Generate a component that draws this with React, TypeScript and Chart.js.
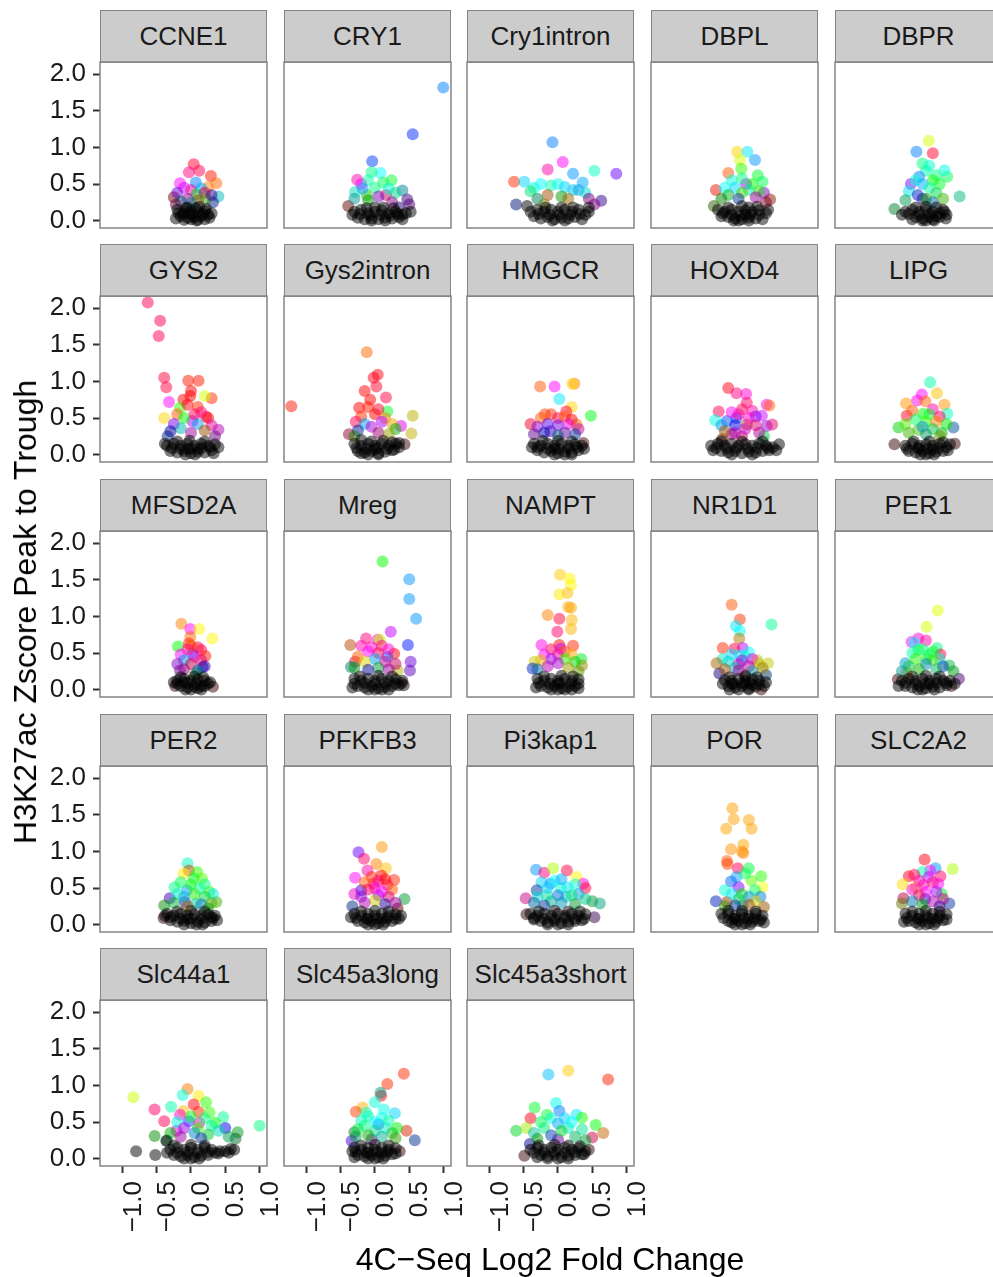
import React, { useEffect, useRef } from "react";
import { Chart, registerables } from "chart.js";
Chart.register(...registerables);

// Each point: [log2FC, zscore, phaseHue, brightness?]
const CCNE1 = [[0.04,0.77,350],[0.12,0.68,340],[-0.03,0.66,330],[0.29,0.61,5],[0.37,0.51,25],[-0.16,0.51,300],[0.25,0.46,30],[0.07,0.52,210],[0.40,0.33,180],[-0.25,0.32,0,0.45],[0.32,0.25,230,0.55],
  [-0.1,0.45,290],[0.0,0.42,320],[0.15,0.44,200],[-0.2,0.38,270],[0.08,0.36,130],[0.2,0.38,340],[-0.05,0.3,300,0.6],[0.1,0.28,20,0.55],[-0.15,0.26,200,0.5],[0.22,0.3,100,0.6],[0.3,0.35,260,0.6],[-0.22,0.22,330,0.4],[0.0,0.24,180,0.5]];
const CCNE1_LOW = [[-0.2,0.15],[-0.1,0.12],[0.0,0.14],[0.1,0.12],[0.2,0.13],[-0.15,0.06],[-0.05,0.04],[0.05,0.05],[0.15,0.06],[0.25,0.08],[-0.22,0.03],[0.0,0.02],[0.1,0.01],[-0.1,0.01],[0.3,0.1],[-0.05,0.18],[0.12,0.19],[0.2,0.02],
  [-0.12,0.09],[0.03,0.08],[0.17,0.09],[-0.07,0.17],[0.07,0.17],[0.22,0.16],[-0.18,0.1],[0.27,0.04],[-0.02,0.1],[0.08,0.0]];

const CRY1 = [[0.995,1.82,210],[0.55,1.18,230],[-0.04,0.81,225],[-0.26,0.56,320],[0.24,0.55,130],[0.08,0.65,180],[-0.05,0.66,150],[-0.29,0.39,170],[-0.12,0.35,110],[0.16,0.35,330],[0.40,0.41,190,0.6],[0.47,0.29,270,0.5],[-0.39,0.2,0,0.4],
  [-0.2,0.5,300],[-0.1,0.55,160],[0.12,0.52,140],[0.0,0.45,150],[-0.18,0.44,200],[0.2,0.44,170],[0.3,0.38,160],[-0.3,0.3,180,0.6],[0.05,0.33,280],[0.25,0.25,300,0.5],[0.5,0.22,280,0.45],[0.35,0.18,260,0.4],[-0.1,0.28,120,0.6]];
const CRY1_LOW = [[0.52,0.12],[-0.3,0.12],[-0.2,0.15],[-0.1,0.1],[0.0,0.12],[0.1,0.14],[0.2,0.1],[0.3,0.12],[0.4,0.08],[-0.25,0.04],[-0.15,0.02],[-0.05,0.03],[0.05,0.02],[0.15,0.04],[0.25,0.03],[0.35,0.05],[0.45,0.1],[0.0,0.18],
  [-0.33,0.08],[-0.22,0.09],[-0.08,0.07],[0.08,0.08],[0.22,0.07],[0.33,0.09],[-0.12,0.17],[0.12,0.18],[0.27,0.17],[0.4,0.02],[-0.05,0.0],[0.15,0.0]];

const CRY1INTRON = [[-0.08,1.07,210],[0.07,0.80,300],[-0.15,0.70,320],[0.22,0.64,205],[0.53,0.68,165],[0.85,0.64,265],[-0.64,0.53,10],[-0.49,0.53,190],[0.36,0.52,200],[0.63,0.27,260,0.55],[0.53,0.22,300,0.5],[-0.61,0.22,230,0.45],[0.22,0.42,190],[-0.2,0.22,60,0.55],
  [-0.35,0.45,170],[-0.25,0.5,180],[-0.1,0.48,160],[0.0,0.5,175],[0.1,0.46,190],[0.3,0.42,200],[-0.4,0.4,150],[0.4,0.38,180],[-0.15,0.35,30,0.6],[0.05,0.33,120,0.6],[0.15,0.3,40,0.6],[-0.3,0.3,160,0.5],[0.45,0.3,300,0.5]];
const CRY1INTRON_LOW = [[0.35,0.02],[-0.45,0.2],[-0.3,0.15],[-0.2,0.12],[-0.1,0.15],[0.0,0.12],[0.1,0.15],[0.2,0.12],[0.3,0.15],[0.45,0.18],[-0.35,0.06],[-0.25,0.03],[-0.15,0.05],[-0.05,0.02],[0.05,0.04],[0.15,0.03],[0.25,0.05],[0.4,0.08],
  [-0.4,0.12],[-0.28,0.09],[-0.12,0.08],[0.02,0.08],[0.18,0.08],[0.32,0.09],[-0.18,0.18],[0.05,0.18],[0.22,0.18],[-0.08,0.0],[0.1,0.0],[0.45,0.12]];

const DBPL = [[-0.07,0.94,50],[0.08,0.94,185],[0.19,0.83,205],[-0.03,0.83,70],[-0.01,0.71,110],[-0.2,0.65,20],[0.23,0.62,130],[-0.38,0.42,5],[0.06,0.50,280],[0.32,0.38,275],[0.41,0.29,10,0.55],[-0.41,0.2,90,0.35],[0.3,0.53,140],
  [-0.15,0.55,170],[0.0,0.58,150],[0.15,0.5,120],[-0.25,0.45,180],[-0.1,0.45,190],[0.1,0.42,160],[0.25,0.4,110],[-0.2,0.35,130,0.7],[0.0,0.38,100],[0.2,0.32,300,0.6],[-0.3,0.3,120,0.5],[0.35,0.25,340,0.5],[-0.05,0.3,220,0.6]];
const DBPL_LOW = [[-0.35,0.15],[-0.25,0.12],[-0.15,0.15],[-0.05,0.12],[0.05,0.14],[0.15,0.12],[0.25,0.14],[0.35,0.1],[-0.2,0.05],[-0.1,0.03],[0.0,0.02],[0.1,0.04],[0.2,0.03],[0.3,0.02],[-0.05,0.0],[-0.3,0.06],[0.05,0.08],[0.0,0.2],
  [-0.28,0.1],[-0.15,0.08],[-0.02,0.07],[0.12,0.08],[0.25,0.08],[-0.2,0.18],[0.1,0.18],[0.22,0.19],[0.1,0.0],[-0.12,0.0],[0.38,0.15]];

const DBPR = [[0.04,1.09,70],[0.10,0.92,350],[-0.14,0.94,210],[0.49,0.33,160],[-0.46,0.16,140,0.5],[0.31,0.6,140],[0.27,0.69,175],[-0.22,0.5,270],[-0.05,0.3,260],
  [-0.05,0.78,150],[0.05,0.75,170],[0.0,0.68,160],[0.15,0.62,150],[-0.1,0.6,210],[0.1,0.55,120],[-0.15,0.55,170],[0.2,0.5,130],[-0.05,0.5,200],[0.05,0.45,160],[-0.25,0.4,180],[0.15,0.38,140],[-0.12,0.35,230],[0.25,0.3,100,0.7],[-0.3,0.28,150,0.6],[0.0,0.3,120,0.6],[0.1,0.25,200,0.6]];
const DBPR_LOW = [[0.29,0.03],[-0.3,0.12],[-0.2,0.15],[-0.1,0.12],[0.0,0.15],[0.1,0.12],[0.2,0.1],[0.25,0.15],[-0.15,0.05],[-0.05,0.03],[0.05,0.05],[0.15,0.06],[-0.2,0.02],[0.1,0.02],[0.0,0.0],[-0.35,0.08],[0.3,0.08],
  [-0.25,0.09],[-0.1,0.08],[0.05,0.09],[0.2,0.05],[-0.15,0.18],[0.0,0.19],[0.15,0.18],[-0.05,0.0],[0.12,0.0],[0.27,0.12]];

const GYS2 = [[-0.63,2.08,340],[-0.45,1.83,340],[-0.47,1.62,340],[-0.39,1.05,345],[-0.36,0.92,345],[-0.04,1.01,5],[0.11,1.01,5],[-0.32,0.72,300],[-0.01,0.8,0],[0.3,0.77,10],[0.2,0.8,70],[-0.11,0.75,0],[-0.39,0.5,50],[-0.16,0.64,110],[0.02,0.46,280],[0.4,0.34,300,0.7],[0.22,0.52,340],[-0.34,0.25,220,0.5],[0.0,0.87,0],
  [-0.05,0.68,355],[0.1,0.65,10],[-0.2,0.55,20],[0.15,0.58,330],[0.25,0.5,0],[-0.1,0.5,120],[0.05,0.55,340],[-0.25,0.42,270],[0.1,0.42,200],[0.3,0.4,320],[-0.15,0.36,180,0.7],[0.2,0.33,30,0.6],[-0.3,0.32,240,0.6],[0.0,0.3,300,0.6],[0.35,0.25,290,0.5]];
const GYS2_LOW = [[-0.35,0.12],[-0.25,0.15],[-0.15,0.12],[-0.05,0.15],[0.05,0.12],[0.15,0.15],[0.25,0.12],[0.35,0.14],[-0.3,0.05],[-0.2,0.03],[-0.1,0.05],[0.0,0.02],[0.1,0.04],[0.2,0.03],[0.3,0.06],[0.4,0.1],[-0.05,0.08],[0.1,0.08],
  [-0.28,0.09],[-0.15,0.08],[0.0,0.08],[0.15,0.09],[0.28,0.1],[-0.2,0.18],[-0.02,0.19],[0.2,0.18],[0.33,0.02],[-0.08,0.0],[0.06,0.0],[-0.38,0.15]];

const GYS2INTRON = [[-0.12,1.40,25],[-1.22,0.66,5],[0.04,1.09,355],[-0.02,1.05,355],[0.02,0.93,350],[-0.15,0.87,0],[0.16,0.78,345],[-0.23,0.64,0],[-0.07,0.75,0],[0.55,0.53,55,0.75],[0.53,0.29,55,0.75],[0.38,0.39,300],[-0.38,0.28,340,0.55],[0.18,0.59,130],[0.43,0.14,0,0.2],
  [-0.1,0.65,5],[0.05,0.62,350],[-0.2,0.52,10],[0.0,0.55,0],[0.15,0.5,30],[-0.28,0.45,340],[0.1,0.45,280],[-0.15,0.42,200],[0.25,0.42,40],[-0.05,0.38,290],[0.3,0.35,120,0.7],[-0.25,0.33,230,0.6],[0.05,0.3,320,0.6],[0.2,0.28,60,0.6],[-0.3,0.25,100,0.5]];
const GYS2INTRON_LOW = [[-0.3,0.15],[-0.2,0.12],[-0.1,0.15],[0.0,0.12],[0.1,0.15],[0.2,0.12],[0.3,0.15],[-0.25,0.05],[-0.15,0.03],[-0.05,0.05],[0.05,0.02],[0.15,0.04],[0.25,0.06],[0.35,0.1],[-0.1,0.0],[0.0,0.07],[-0.2,0.2],
  [-0.27,0.09],[-0.12,0.08],[0.03,0.09],[0.18,0.08],[0.28,0.07],[-0.05,0.18],[0.12,0.19],[0.25,0.17],[0.05,0.0],[-0.2,0.02],[0.35,0.16]];

const HMGCR = [[-0.26,0.93,20],[-0.05,0.93,300],[0.24,0.97,30],[0.21,0.97,50],[0.02,0.76,185],[0.48,0.53,125],[-0.4,0.42,350],[0.2,0.65,50],[-0.19,0.55,15],[0.12,0.59,350],[0.27,0.41,30],[-0.11,0.32,260],[0.37,0.16,0,0.3],
  [-0.25,0.5,20],[-0.1,0.55,10],[0.0,0.5,340],[0.1,0.52,20],[0.2,0.48,0],[-0.3,0.38,280],[-0.15,0.42,260],[0.0,0.4,270],[0.15,0.42,300],[0.3,0.35,310],[-0.2,0.3,240,0.7],[0.1,0.3,280,0.6],[0.25,0.28,220,0.6],[-0.35,0.28,280,0.55],[0.0,0.26,200,0.5]];
const HMGCR_LOW = [[-0.35,0.15],[-0.25,0.12],[-0.15,0.15],[-0.05,0.12],[0.05,0.15],[0.15,0.12],[0.25,0.14],[0.35,0.12],[-0.3,0.06],[-0.2,0.03],[-0.1,0.05],[0.0,0.02],[0.1,0.04],[0.2,0.03],[0.3,0.06],[-0.05,0.08],[0.1,0.0],
  [-0.3,0.1],[-0.15,0.08],[0.0,0.08],[0.15,0.08],[0.28,0.1],[-0.22,0.19],[0.0,0.19],[0.2,0.18],[0.38,0.08],[-0.05,0.0],[0.2,0.0],[-0.38,0.1]];

const HOXD4 = [[-0.2,0.91,355],[-0.08,0.84,330],[0.06,0.83,310],[0.07,0.71,335],[0.36,0.68,300],[0.4,0.67,25],[-0.34,0.59,340],[-0.39,0.47,175],[-0.22,0.46,220],[-0.08,0.5,230],[0.29,0.53,290],[0.07,0.41,20,0.7],[0.36,0.39,280],[0.44,0.41,330],[0.32,0.25,140,0.8],[-0.15,0.28,320],[0.0,0.25,330,0.8],[-0.29,0.21,20,0.45],
  [0.0,0.62,340],[0.15,0.6,320],[-0.15,0.58,300],[0.2,0.52,270],[-0.05,0.55,320],[0.1,0.5,310],[-0.3,0.4,200],[-0.1,0.4,240],[0.2,0.4,330],[0.05,0.35,300,0.8],[-0.25,0.32,30,0.6],[0.25,0.3,310,0.7],[-0.1,0.3,300,0.7]];
const HOXD4_LOW = [[-0.42,0.06],[0.54,0.14],[-0.45,0.12],[-0.35,0.15],[-0.25,0.12],[-0.15,0.15],[-0.05,0.12],[0.05,0.14],[0.15,0.12],[0.25,0.15],[0.35,0.12],[0.45,0.1],[-0.3,0.05],[-0.2,0.03],[-0.1,0.05],[0.0,0.02],[0.1,0.04],[0.2,0.03],[0.3,0.05],[0.4,0.06],
  [-0.38,0.09],[-0.22,0.08],[-0.08,0.09],[0.08,0.08],[0.22,0.09],[0.38,0.09],[0.5,0.06],[-0.3,0.18],[0.0,0.18],[0.3,0.18],[-0.15,0.0],[0.15,0.0]];

const LIPG = [[0.06,0.99,160],[0.16,0.84,45],[-0.06,0.82,300],[-0.13,0.74,305],[-0.29,0.7,35],[0.27,0.68,35],[-0.01,0.73,25],[0.31,0.56,165],[-0.28,0.53,350],[-0.04,0.56,120],[-0.4,0.37,120],[0.4,0.37,210,0.6],[-0.46,0.14,0,0.2],[0.42,0.15,0,0.2],[-0.11,0.34,100],[0.23,0.3,120],
  [0.1,0.62,320],[-0.2,0.6,20],[0.05,0.55,130],[0.2,0.52,340],[-0.15,0.48,140],[0.0,0.45,110],[0.15,0.45,30],[-0.3,0.42,100],[0.3,0.42,120],[-0.05,0.38,200],[0.1,0.35,140],[-0.25,0.3,100,0.7],[0.2,0.25,80,0.6],[0.0,0.28,160,0.6]];
const LIPG_LOW = [[-0.3,0.12],[-0.2,0.15],[-0.1,0.12],[0.0,0.14],[0.1,0.12],[0.2,0.15],[0.3,0.1],[-0.25,0.05],[-0.15,0.03],[-0.05,0.05],[0.05,0.02],[0.15,0.04],[0.25,0.05],[0.0,0.0],[-0.1,0.08],[0.1,0.07],
  [-0.28,0.08],[-0.12,0.09],[0.03,0.08],[0.18,0.09],[0.32,0.06],[-0.18,0.18],[0.05,0.18],[0.25,0.17],[-0.08,0.0],[0.12,0.0],[0.35,0.14]];

const MFSD2A = [[-0.14,0.9,30],[-0.01,0.83,300],[0.12,0.83,58],[0.31,0.7,58],[-0.01,0.72,25],[-0.19,0.59,120],[-0.03,0.63,5],[0.15,0.54,340],[0.21,0.46,5],[0.02,0.49,220],[0.17,0.31,240],[-0.16,0.26,280,0.6],[0.07,0.22,120,0.55],[-0.23,0.05,0,0.2],[0.32,0.04,0,0.2],
  [0.0,0.6,20],[-0.05,0.55,330],[0.1,0.58,350],[-0.15,0.48,300],[0.05,0.45,310],[-0.1,0.4,200],[0.15,0.4,330],[-0.2,0.35,280],[0.0,0.35,340],[0.2,0.32,260],[-0.1,0.28,310,0.6],[0.1,0.26,200,0.6]];
const MFSD2A_LOW = [[-0.2,0.12],[-0.1,0.15],[0.0,0.12],[0.1,0.14],[0.2,0.12],[0.25,0.08],[-0.15,0.05],[-0.05,0.03],[0.05,0.04],[0.15,0.05],[0.0,0.0],[-0.2,0.08],[0.1,0.02],[-0.1,0.1],
  [-0.25,0.1],[-0.05,0.09],[0.07,0.08],[0.2,0.05],[-0.15,0.17],[0.05,0.18],[0.18,0.17],[-0.08,0.0],[0.15,0.0],[0.28,0.1]];

const MREG = [[0.11,1.75,120],[0.5,1.51,205],[0.5,1.24,205],[0.6,0.97,205],[0.23,0.79,285],[0.48,0.61,235],[-0.36,0.61,25,0.7],[-0.13,0.7,330],[0.04,0.68,315],[0.07,0.68,75],[0.28,0.49,0],[0.18,0.45,220],[-0.29,0.38,350],[0.52,0.38,270],[0.51,0.26,270,0.75],[-0.35,0.31,170,0.5],[0.33,0.26,60,0.7],[0.39,0.09,0,0.2],[-0.05,0.58,315],
  [-0.2,0.6,320],[0.1,0.6,330],[-0.1,0.52,300],[0.05,0.5,340],[0.2,0.55,310],[-0.25,0.45,20],[0.0,0.42,200],[0.15,0.38,320],[-0.15,0.38,60],[0.3,0.35,330],[-0.3,0.3,130,0.6],[0.05,0.3,140,0.6],[0.2,0.28,300,0.6],[-0.1,0.27,240,0.6]];
const MREG_LOW = [[-0.3,0.15],[-0.2,0.12],[-0.1,0.15],[0.0,0.12],[0.1,0.15],[0.2,0.12],[0.3,0.14],[0.4,0.12],[-0.25,0.05],[-0.15,0.03],[-0.05,0.05],[0.05,0.02],[0.15,0.04],[0.25,0.05],[0.35,0.06],[-0.1,0.0],[0.1,0.0],
  [-0.3,0.08],[-0.15,0.09],[0.0,0.08],[0.15,0.09],[0.3,0.08],[0.42,0.06],[-0.22,0.18],[0.05,0.19],[0.25,0.18],[0.0,0.0],[0.2,0.0],[-0.33,0.03]];

const NAMPT = [[0.03,1.57,48],[0.17,1.52,58],[0.19,1.43,58],[0.02,1.3,55],[0.14,1.32,45],[0.15,1.13,40],[0.19,1.12,38],[-0.15,1.02,30],[0.02,0.97,345],[0.2,0.95,42],[0.19,0.83,42],[-0.01,0.79,335],[-0.24,0.61,305],[0.02,0.61,0],[0.04,0.56,285],[0.22,0.6,8],[0.34,0.42,130],[-0.34,0.38,60,0.8],[-0.37,0.29,230,0.8],[0.35,0.33,55,0.6],
  [-0.1,0.55,340],[0.1,0.52,20],[-0.2,0.48,300],[0.0,0.48,320],[0.2,0.48,40],[-0.1,0.42,280],[0.1,0.42,110],[-0.25,0.4,50],[0.25,0.38,120],[0.0,0.36,290],[-0.15,0.32,300,0.7],[0.15,0.3,60,0.6],[-0.3,0.28,200,0.6],[0.3,0.25,80,0.6]];
const NAMPT_LOW = [[-0.3,0.15],[-0.2,0.12],[-0.1,0.15],[0.0,0.12],[0.1,0.15],[0.2,0.12],[0.3,0.14],[-0.25,0.05],[-0.15,0.03],[-0.05,0.05],[0.05,0.02],[0.15,0.04],[0.25,0.05],[0.3,0.02],[-0.1,0.0],[0.1,0.0],[0.0,0.08],
  [-0.28,0.09],[-0.12,0.08],[0.03,0.09],[0.18,0.08],[0.3,0.08],[-0.2,0.18],[0.05,0.19],[0.22,0.18],[0.0,0.0],[0.2,0.0],[-0.32,0.03]];

const NR1D1 = [[-0.15,1.16,20],[-0.03,0.96,12],[0.43,0.89,155],[-0.09,0.87,185],[-0.03,0.8,180],[-0.04,0.7,40,0.7],[-0.28,0.57,10],[0.01,0.57,285],[-0.11,0.56,345],[0.1,0.51,180],[-0.03,0.47,180],[-0.28,0.42,170],[-0.37,0.36,35,0.65],[-0.05,0.35,310],[0.38,0.36,62],[0.22,0.4,60,0.7],[-0.33,0.22,250],[0.35,0.2,210,0.4],[0.28,0.0,0,0.2],[0.05,0.2,20,0.3],
  [-0.15,0.48,190],[0.05,0.45,170],[0.15,0.42,300],[-0.2,0.38,180],[0.0,0.4,280],[0.25,0.35,60],[-0.1,0.3,180,0.7],[0.1,0.32,310],[0.3,0.3,50,0.6],[-0.25,0.28,30,0.6],[0.15,0.25,180,0.6],[-0.05,0.26,300,0.6]];
const NR1D1_LOW = [[-0.25,0.13],[-0.15,0.12],[-0.05,0.15],[0.05,0.12],[0.15,0.14],[0.25,0.12],[0.35,0.1],[-0.2,0.05],[-0.1,0.03],[0.0,0.05],[0.1,0.02],[0.2,0.04],[-0.05,0.0],[0.05,0.08],[0.15,0.06],[-0.15,0.08],
  [-0.28,0.08],[-0.12,0.08],[0.0,0.09],[0.12,0.09],[0.25,0.07],[0.32,0.05],[-0.18,0.17],[0.05,0.18],[0.22,0.17],[0.1,0.0],[-0.18,0.0]];

const PER1 = [[0.17,1.08,68],[0.01,0.86,70],[-0.21,0.65,300],[-0.11,0.7,310],[0.0,0.67,320],[-0.17,0.64,180],[0.16,0.57,150],[0.21,0.48,345],[-0.11,0.54,125],[0.01,0.42,125],[-0.3,0.36,195],[0.34,0.33,140],[0.48,0.15,280,0.45],[-0.41,0.14,0,0.25],[-0.28,0.23,40,0.8],[0.37,0.05,0,0.2],
  [-0.05,0.55,150],[0.1,0.52,130],[-0.2,0.5,160],[0.05,0.48,140],[0.2,0.42,170],[-0.15,0.42,110],[0.1,0.4,100],[-0.25,0.32,140,0.8],[0.0,0.35,200],[0.25,0.32,220,0.7],[-0.1,0.28,120,0.7],[0.15,0.28,150,0.7],[0.4,0.25,130,0.6],[-0.35,0.25,180,0.6]];
const PER1_LOW = [[-0.35,0.12],[-0.25,0.15],[-0.15,0.12],[-0.05,0.15],[0.05,0.12],[0.15,0.15],[0.25,0.12],[0.35,0.12],[-0.3,0.05],[-0.2,0.03],[-0.1,0.05],[0.0,0.02],[0.1,0.04],[0.2,0.03],[0.3,0.06],[-0.05,0.0],[0.05,0.08],
  [-0.3,0.09],[-0.15,0.08],[0.0,0.08],[0.15,0.09],[0.3,0.09],[0.42,0.08],[-0.2,0.18],[0.0,0.19],[0.2,0.18],[-0.12,0.0],[0.12,0.0],[-0.4,0.05]];

const PER2 = [[-0.05,0.84,165],[-0.03,0.74,20,0.75],[-0.11,0.7,55],[0.09,0.72,110],[0.16,0.63,100],[0.04,0.63,130],[-0.24,0.51,150],[-0.06,0.47,205],[0.12,0.49,160],[0.27,0.45,110],[0.37,0.31,100],[0.32,0.42,180],[-0.31,0.36,260,0.7],[-0.09,0.31,230],[0.07,0.29,170,0.8],[-0.39,0.26,120,0.55],[-0.4,0.09,0,0.2],[0.32,0.09,0,0.2],
  [-0.15,0.58,140],[0.0,0.55,120],[0.2,0.55,150],[-0.2,0.42,170],[0.05,0.42,110],[0.2,0.38,140],[-0.1,0.38,190],[0.3,0.3,90,0.7],[-0.25,0.3,140,0.7],[0.15,0.28,200,0.7],[-0.05,0.25,40,0.6],[0.25,0.22,120,0.6]];
const PER2_LOW = [[-0.35,0.15],[-0.25,0.12],[-0.15,0.15],[-0.05,0.12],[0.05,0.14],[0.15,0.12],[0.25,0.14],[0.35,0.12],[-0.3,0.06],[-0.2,0.04],[-0.1,0.05],[0.0,0.02],[0.1,0.04],[0.2,0.03],[0.17,0.0],[-0.05,0.08],[0.3,0.05],
  [-0.3,0.1],[-0.15,0.08],[0.0,0.08],[0.15,0.08],[0.3,0.1],[-0.2,0.18],[0.0,0.19],[0.2,0.18],[-0.1,0.0],[0.08,0.0],[0.38,0.06],[-0.38,0.12]];

const PFKFB3 = [[0.1,1.06,35],[-0.24,0.99,265],[-0.16,0.9,335],[0.02,0.83,30],[0.16,0.77,45],[-0.11,0.74,320],[-0.29,0.64,300],[0.28,0.61,10],[0.09,0.67,0],[-0.02,0.56,335],[0.18,0.54,340],[-0.2,0.47,250],[-0.3,0.42,310],[0.43,0.35,140,0.6],[0.05,0.4,270],[-0.33,0.25,220,0.5],[0.33,0.22,0,0.35],
  [-0.05,0.65,10],[0.05,0.6,330],[-0.15,0.58,20],[0.15,0.62,0],[0.0,0.5,310],[-0.1,0.48,340],[0.25,0.48,20],[0.1,0.45,300],[-0.2,0.38,280],[0.2,0.38,330],[0.0,0.33,60,0.8],[-0.15,0.3,300,0.7],[0.15,0.28,250,0.6],[0.3,0.3,300,0.6]];
const PFKFB3_LOW = [[-0.3,0.15],[-0.2,0.12],[-0.1,0.15],[0.0,0.12],[0.1,0.15],[0.2,0.12],[0.3,0.14],[-0.25,0.05],[-0.15,0.03],[-0.05,0.05],[0.05,0.02],[0.15,0.04],[0.25,0.05],[0.35,0.08],[0.0,0.0],[-0.1,0.08],[0.1,0.08],
  [-0.28,0.09],[-0.12,0.08],[0.03,0.08],[0.18,0.09],[0.3,0.08],[-0.2,0.18],[0.0,0.19],[0.2,0.18],[-0.1,0.0],[0.12,0.0],[0.38,0.12],[-0.35,0.1]];

const PI3KAP1 = [[-0.32,0.75,205],[-0.2,0.71,330],[-0.07,0.77,80],[0.13,0.74,345],[0.27,0.65,58],[0.37,0.56,310],[0.4,0.5,345],[-0.24,0.58,190],[-0.11,0.56,210],[0.04,0.5,165],[0.14,0.51,185],[-0.16,0.4,160],[0.12,0.38,185],[-0.47,0.36,320],[-0.31,0.47,220,0.6],[0.5,0.32,140,0.6],[0.61,0.29,165],[-0.46,0.14,0,0.2],[0.53,0.1,280,0.3],
  [-0.05,0.6,180],[0.05,0.62,200],[0.25,0.55,170],[-0.15,0.5,190],[0.3,0.42,200],[-0.3,0.38,180],[0.0,0.4,210],[0.2,0.4,150],[-0.1,0.32,170,0.7],[0.4,0.35,160],[-0.35,0.3,200,0.6],[0.05,0.3,190,0.7],[0.25,0.28,140,0.6],[-0.2,0.26,220,0.6]];
const PI3KAP1_LOW = [[-0.4,0.15],[-0.3,0.12],[-0.2,0.15],[-0.1,0.12],[0.0,0.15],[0.1,0.12],[0.2,0.15],[0.3,0.12],[0.4,0.14],[-0.25,0.05],[-0.15,0.03],[-0.05,0.05],[0.05,0.02],[0.15,0.04],[0.25,0.05],[0.35,0.06],[0.0,0.0],[-0.35,0.07],
  [-0.35,0.09],[-0.2,0.08],[-0.05,0.08],[0.1,0.09],[0.25,0.08],[0.38,0.08],[-0.28,0.18],[-0.05,0.19],[0.15,0.18],[0.32,0.18],[-0.15,0.0],[0.15,0.0]];

const POR = [[-0.14,1.59,38],[-0.12,1.44,38],[0.1,1.43,38],[-0.23,1.31,38],[0.14,1.31,38],[-0.16,1.03,35],[0.02,1.09,40],[0.02,0.98,30],[0.0,1.0,35],[-0.22,0.87,20],[-0.21,0.83,15],[-0.06,0.77,340],[0.1,0.77,135],[0.28,0.66,110],[-0.08,0.65,200],[0.14,0.6,100],[0.3,0.51,62],[-0.16,0.59,215],[-0.05,0.51,270],[-0.25,0.47,170],[0.19,0.47,140],[-0.38,0.32,230],[0.27,0.38,205],[0.32,0.24,30,0.6],[-0.22,0.31,20,0.6],[0.01,0.26,180,0.5],
  [0.05,0.7,140],[-0.15,0.42,180],[0.0,0.42,120],[0.1,0.38,200],[-0.05,0.35,150],[0.2,0.32,60,0.8],[-0.25,0.25,100,0.6],[0.1,0.27,30,0.6],[-0.1,0.26,220,0.6]];
const POR_LOW = [[-0.2,0.05],[-0.3,0.15],[-0.2,0.15],[-0.1,0.12],[0.0,0.15],[0.1,0.12],[0.2,0.15],[0.3,0.12],[-0.15,0.03],[-0.05,0.05],[0.05,0.02],[0.15,0.04],[0.25,0.05],[0.0,0.0],[-0.1,0.08],[0.1,0.08],
  [-0.27,0.09],[-0.12,0.08],[0.03,0.09],[0.18,0.08],[0.28,0.07],[-0.2,0.19],[0.0,0.19],[0.2,0.18],[-0.1,0.0],[0.12,0.0],[0.32,0.03]];

const SLC2A2 = [[-0.02,0.89,355],[0.39,0.76,80],[0.14,0.77,205],[0.06,0.74,300],[-0.05,0.72,160],[-0.25,0.66,355],[-0.17,0.68,340],[0.21,0.66,335],[0.04,0.65,285],[-0.34,0.55,52],[-0.15,0.51,40],[-0.04,0.54,315],[0.18,0.56,300],[0.23,0.42,130],[-0.33,0.36,340,0.7],[0.34,0.29,220],[-0.35,0.29,70,0.45],[-0.01,0.35,230],
  [-0.1,0.6,320],[0.1,0.58,330],[-0.2,0.48,310],[0.0,0.45,300],[0.15,0.45,280],[-0.1,0.4,340],[0.25,0.35,320],[-0.2,0.32,200,0.7],[0.1,0.32,300,0.7],[-0.05,0.27,120,0.6],[0.2,0.25,260,0.6]];
const SLC2A2_LOW = [[-0.3,0.15],[-0.2,0.12],[-0.1,0.15],[0.0,0.12],[0.1,0.15],[0.2,0.12],[0.3,0.14],[-0.25,0.05],[-0.15,0.03],[-0.05,0.05],[0.05,0.02],[0.15,0.04],[0.25,0.06],[0.0,0.0],[-0.1,0.08],[0.1,0.08],
  [-0.28,0.09],[-0.12,0.08],[0.03,0.09],[0.18,0.09],[0.3,0.07],[-0.2,0.18],[0.0,0.19],[0.2,0.18],[-0.1,0.0],[0.12,0.0],[-0.32,0.04]];

const SLC44A1 = [[-0.84,0.84,72],[-0.53,0.67,335],[-0.39,0.51,340],[-0.05,0.95,28],[-0.12,0.87,170],[0.11,0.86,55],[0.22,0.77,110],[-0.29,0.71,160],[0.04,0.74,355],[-0.11,0.65,45],[0.11,0.64,10],[0.27,0.63,110],[0.47,0.57,155],[-0.03,0.51,225],[0.12,0.49,320],[-0.16,0.6,310],[0.35,0.49,120],[0.5,0.42,240],[1.0,0.45,150],[0.68,0.36,130,0.6],[0.65,0.27,140,0.4],[-0.53,0.31,120,0.55],[-0.21,0.38,300],
  [0.0,0.58,130],[0.2,0.55,150],[-0.2,0.5,170],[0.3,0.45,160],[0.1,0.42,110],[-0.1,0.42,280],[0.4,0.38,170],[-0.3,0.35,120,0.7],[0.05,0.35,200],[0.25,0.33,130,0.8],[-0.15,0.3,300,0.6],[0.55,0.3,150,0.6],[0.15,0.28,220,0.6],[-0.35,0.25,140,0.5]];
const SLC44A1_LOW = [[-0.8,0.1],[-0.52,0.05],[0.58,0.13],[0.42,0.1],[-0.36,0.24],[-0.3,0.12],[-0.2,0.15],[-0.1,0.12],[0.0,0.15],[0.1,0.12],[0.2,0.15],[0.3,0.12],[-0.25,0.05],[-0.15,0.03],[-0.05,0.05],[0.05,0.02],[0.15,0.04],[0.25,0.05],[0.35,0.08],[0.5,0.1],[0.0,0.0],
  [-0.35,0.08],[-0.2,0.08],[-0.05,0.09],[0.1,0.08],[0.25,0.09],[0.4,0.07],[0.55,0.08],[-0.25,0.18],[0.0,0.19],[0.2,0.18],[0.63,0.12],[-0.1,0.0],[0.12,0.0]];

const SLC45A3LONG = [[0.42,1.16,10],[0.18,1.02,10],[0.09,0.86,355],[0.08,0.9,170,0.6],[0.0,0.77,170],[-0.18,0.7,42],[-0.28,0.64,15],[-0.13,0.63,170],[0.29,0.62,190],[0.13,0.67,175],[0.05,0.47,220],[0.46,0.38,10],[0.58,0.25,220],[0.32,0.42,120],[-0.3,0.36,130,0.5],[-0.34,0.24,260,0.8],[-0.05,0.26,280,0.6],[0.36,0.1,0,0.2],
  [-0.1,0.58,160],[0.1,0.56,175],[-0.2,0.52,165],[0.0,0.5,180],[0.2,0.52,160],[-0.15,0.45,150],[0.15,0.42,170],[-0.25,0.4,140],[0.25,0.35,130,0.8],[0.0,0.38,160],[-0.1,0.32,120,0.7],[0.1,0.3,170,0.7],[-0.28,0.3,150,0.6],[0.3,0.28,100,0.6]];
const SLC45A3LONG_LOW = [[-0.3,0.15],[-0.2,0.12],[-0.1,0.15],[0.0,0.12],[0.1,0.15],[0.2,0.12],[0.3,0.14],[-0.25,0.05],[-0.15,0.03],[-0.05,0.05],[0.05,0.02],[0.15,0.04],[0.25,0.06],[-0.3,0.02],[0.0,0.0],[-0.1,0.08],[0.1,0.08],
  [-0.28,0.09],[-0.12,0.08],[0.03,0.09],[0.18,0.09],[0.3,0.07],[-0.2,0.18],[0.0,0.19],[0.2,0.18],[-0.1,0.0],[0.12,0.0],[-0.33,0.1]];

const SLC45A3SHORT = [[-0.14,1.15,195],[0.15,1.2,48],[0.73,1.08,8],[-0.03,0.76,175],[-0.34,0.7,130],[-0.4,0.55,355],[-0.16,0.6,130],[0.02,0.65,210],[0.27,0.6,185],[0.35,0.56,115],[0.55,0.46,120],[-0.61,0.38,130],[0.66,0.35,30],[-0.46,0.42,80],[0.5,0.29,340,0.8],[0.0,0.26,280],[-0.41,0.2,240,0.6],[-0.49,0.04,0,0.2],[0.45,0.12,0,0.2],
  [-0.1,0.55,170],[0.1,0.55,190],[-0.25,0.5,140],[0.2,0.5,180],[0.0,0.48,200],[-0.2,0.42,150],[0.15,0.42,170],[0.35,0.4,160],[-0.35,0.35,170],[0.05,0.38,130],[-0.1,0.32,220,0.7],[0.25,0.3,150,0.7],[-0.3,0.27,120,0.6],[0.4,0.25,140,0.6]];
const SLC45A3SHORT_LOW = [[-0.4,0.12],[-0.3,0.15],[-0.2,0.12],[-0.1,0.15],[0.0,0.12],[0.1,0.15],[0.2,0.12],[0.3,0.14],[0.4,0.1],[-0.25,0.05],[-0.15,0.03],[-0.05,0.05],[0.05,0.02],[0.15,0.04],[0.25,0.05],[0.35,0.06],[0.0,0.0],[-0.3,0.02],
  [-0.35,0.08],[-0.2,0.08],[-0.05,0.09],[0.1,0.08],[0.25,0.09],[0.38,0.06],[-0.28,0.18],[-0.05,0.19],[0.15,0.18],[0.32,0.17],[-0.15,0.0],[0.15,0.0]];

const GENES = ["CCNE1","CRY1","Cry1intron","DBPL","DBPR","GYS2","Gys2intron","HMGCR","HOXD4","LIPG","MFSD2A","Mreg","NAMPT","NR1D1","PER1","PER2","PFKFB3","Pi3kap1","POR","SLC2A2","Slc44a1","Slc45a3long","Slc45a3short"];
const SERIES = [CCNE1,CRY1,CRY1INTRON,DBPL,DBPR,GYS2,GYS2INTRON,HMGCR,HOXD4,LIPG,MFSD2A,MREG,NAMPT,NR1D1,PER1,PER2,PFKFB3,PI3KAP1,POR,SLC2A2,SLC44A1,SLC45A3LONG,SLC45A3SHORT];
const SERIES_LOW = [CCNE1_LOW,CRY1_LOW,CRY1INTRON_LOW,DBPL_LOW,DBPR_LOW,GYS2_LOW,GYS2INTRON_LOW,HMGCR_LOW,HOXD4_LOW,LIPG_LOW,MFSD2A_LOW,MREG_LOW,NAMPT_LOW,NR1D1_LOW,PER1_LOW,PER2_LOW,PFKFB3_LOW,PI3KAP1_LOW,POR_LOW,SLC2A2_LOW,SLC44A1_LOW,SLC45A3LONG_LOW,SLC45A3SHORT_LOW];

const X_TICKS = [-1, -0.5, 0, 0.5, 1];
const Y_TICKS = [0, 0.5, 1, 1.5, 2];
const X_LIMITS = [-1.326, 1.108];
const Y_LIMITS = [-0.101, 2.168];
const X_TITLE = "4C\u2212Seq Log2 Fold Change";
const Y_TITLE = "H3K27ac Zscore Peak to Trough";

// layout
const NCOL = 5, NROW = 5;
const COL_X = [100, 284, 467, 651, 835];
const ROW_Y = [62, 296, 531, 766, 1000];
const PW = 167, PH = 166, STRIP_H = 52;
const Y_AXIS_W = 100, X_AXIS_H = 80, M = 20;
const FONT = "'Liberation Sans', Arial, Helvetica, sans-serif";
const BORDER = "#858585";

function hsvA(h: number, v: number, a: number) {
  const hh = (((h % 360) + 360) % 360) / 60;
  const c = v;
  const x = c * (1 - Math.abs((hh % 2) - 1));
  let r = 0, g = 0, b = 0;
  if (hh < 1) { r = c; g = x; }
  else if (hh < 2) { r = x; g = c; }
  else if (hh < 3) { g = c; b = x; }
  else if (hh < 4) { g = x; b = c; }
  else if (hh < 5) { r = x; b = c; }
  else { r = c; b = x; }
  return `rgba(${Math.round(r * 255)},${Math.round(g * 255)},${Math.round(b * 255)},${a})`;
}
const colorOf = (p: number[]) =>
  hsvA(p[2], p.length > 3 ? p[3] : Math.min(1, Math.max(0, p[1] / 0.45)), 0.5);

const fmt = (v: number) => (v < 0 ? "\u2212" : "") + Math.abs(v).toFixed(1);

const borderPlugin = {
  id: "panelBorder",
  afterDraw(chart: any) {
    const { ctx, chartArea: a } = chart;
    ctx.save();
    ctx.strokeStyle = BORDER;
    ctx.lineWidth = 1.5;
    ctx.strokeRect(a.left, a.top, a.right - a.left, a.bottom - a.top);
    ctx.restore();
  },
};

function Panel({ i }: { i: number }) {
  const ref = useRef<HTMLCanvasElement>(null);
  const col = i % NCOL;
  const row = Math.floor(i / NCOL);
  const showY = col === 0;
  const showX = row === NROW - 1;
  const yW = showY ? Y_AXIS_W : 0;
  const xH = showX ? X_AXIS_H : 0;
  const plotL = COL_X[col];
  const plotT = ROW_Y[row];

  useEffect(() => {
    const pts = SERIES[i];
    const low = SERIES_LOW[i];
    const grid = {
      display: true,
      drawOnChartArea: false,
      drawTicks: true,
      tickLength: 7,
      tickWidth: 2,
      tickColor: "#333333",
    };
    const chart = new Chart(ref.current as HTMLCanvasElement, {
      type: "scatter",
      data: {
        datasets: [
          {
            data: low.map((p) => ({ x: p[0], y: p[1] })),
            backgroundColor: "rgba(0,0,0,0.5)",
            pointRadius: 6,
            pointHoverRadius: 6,
            pointBorderWidth: 0,
          },
          {
            data: pts.map((p) => ({ x: p[0], y: p[1] })),
            backgroundColor: pts.map(colorOf),
            pointRadius: 6,
            pointHoverRadius: 6,
            pointBorderWidth: 0,
          },
        ],
      },
      options: {
        animation: false,
        responsive: true,
        maintainAspectRatio: false,
        events: [],
        layout: { padding: M },
        plugins: { legend: { display: false }, tooltip: { enabled: false } },
        scales: {
          x: {
            type: "linear",
            display: showX,
            min: X_LIMITS[0],
            max: X_LIMITS[1],
            afterBuildTicks: (s: any) => { s.ticks = X_TICKS.map((v) => ({ value: v })); },
            afterFit: (s: any) => { s.height = xH; s.paddingLeft = 0; s.paddingRight = 0; },
            grid,
            border: { display: false },
            ticks: {
              autoSkip: false,
              minRotation: 90,
              maxRotation: 90,
              padding: 8,
              labelOffset: 11,
              color: "#1A1A1A",
              font: { family: FONT, size: 26 },
              callback: (v: any) => fmt(Number(v)),
            },
          },
          y: {
            type: "linear",
            display: showY,
            min: Y_LIMITS[0],
            max: Y_LIMITS[1],
            afterBuildTicks: (s: any) => { s.ticks = Y_TICKS.map((v) => ({ value: v })); },
            afterFit: (s: any) => { s.width = yW; s.paddingTop = 0; s.paddingBottom = 0; },
            grid,
            border: { display: false },
            ticks: {
              autoSkip: false,
              padding: 7,
              color: "#1A1A1A",
              font: { family: FONT, size: 26 },
              callback: (v: any) => fmt(Number(v)),
            },
          },
        },
      } as any,
      plugins: [borderPlugin],
    });
    return () => chart.destroy();
  }, [i]);

  return (
    <>
      <div
        style={{
          position: "absolute",
          left: plotL,
          top: plotT - STRIP_H,
          width: PW,
          height: STRIP_H + 1,
          boxSizing: "border-box",
          background: "#CCCCCC",
          border: `1.5px solid ${BORDER}`,
          display: "flex",
          alignItems: "center",
          justifyContent: "center",
          fontFamily: FONT,
          fontSize: 26,
          color: "#1A1A1A",
          whiteSpace: "nowrap",
        }}
      >
        {GENES[i]}
      </div>
      <div
        style={{
          position: "absolute",
          left: plotL - yW - M,
          top: plotT - M,
          width: M + yW + PW + M,
          height: M + PH + xH + M,
        }}
      >
        <canvas ref={ref} />
      </div>
    </>
  );
}

export default function App() {
  return (
    <div
      style={{
        position: "absolute",
        left: 0,
        top: 0,
        width: 993,
        height: 1277,
        overflow: "hidden",
        background: "#FFFFFF",
        fontFamily: FONT,
      }}
    >
      {GENES.map((_, i) => (
        <Panel key={i} i={i} />
      ))}
      <div
        style={{
          position: "absolute",
          left: 25,
          top: 612,
          transform: "translate(-50%, -50%) rotate(-90deg)",
          fontSize: 32,
          lineHeight: 1,
          whiteSpace: "nowrap",
          color: "#000",
        }}
      >
        {Y_TITLE}
      </div>
      <div
        style={{
          position: "absolute",
          left: 550,
          top: 1259,
          transform: "translate(-50%, -50%)",
          fontSize: 32,
          lineHeight: 1,
          whiteSpace: "nowrap",
          color: "#000",
        }}
      >
        {X_TITLE}
      </div>
    </div>
  );
}
